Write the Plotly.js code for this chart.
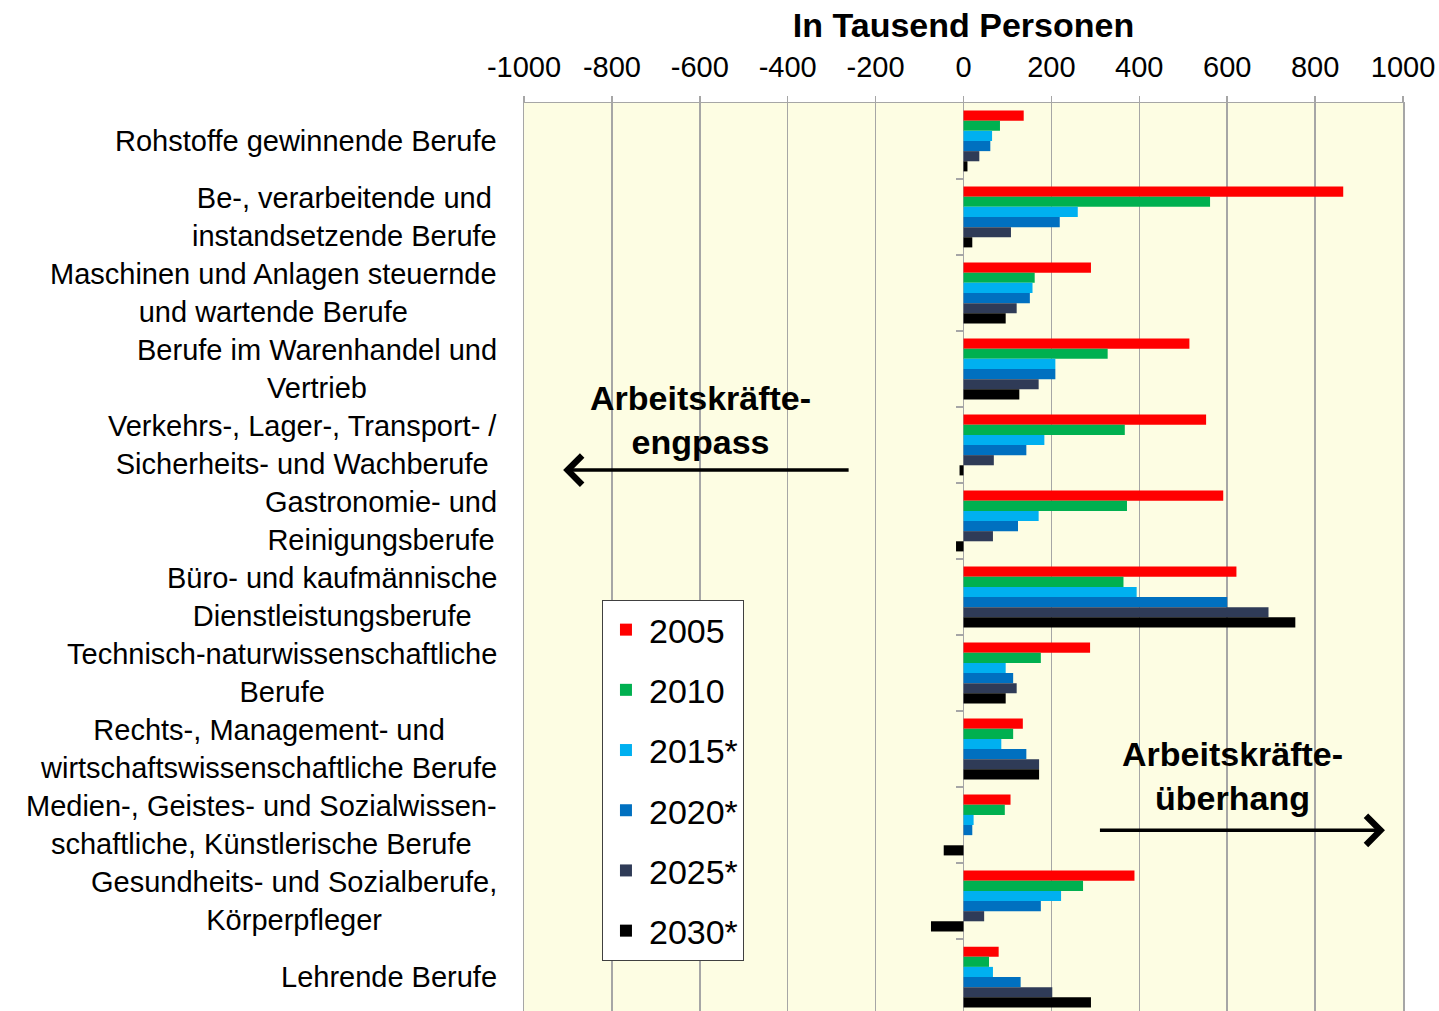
<!DOCTYPE html>
<html>
<head>
<meta charset="utf-8">
<script src="https://cdn.plot.ly/plotly-3.0.1.min.js"></script>
<style>html,body{margin:0;padding:0;background:#fff;}#chart{width:1439px;height:1011px;}</style>
</head>
<body>
<div id="chart"></div>
<script>
const categories = [
  "Rohstoffe gewinnende Berufe",
  "Be-, verarbeitende und<br>instandsetzende Berufe",
  "Maschinen und Anlagen steuernde<br>und wartende Berufe",
  "Berufe im Warenhandel und<br>Vertrieb",
  "Verkehrs-, Lager-, Transport- /<br>Sicherheits- und Wachberufe",
  "Gastronomie- und<br>Reinigungsberufe",
  "Büro- und kaufmännische<br>Dienstleistungsberufe",
  "Technisch-naturwissenschaftliche<br>Berufe",
  "Rechts-, Management- und<br>wirtschaftswissenschaftliche Berufe",
  "Medien-, Geistes- und Sozialwissen-<br>schaftliche, Künstlerische Berufe",
  "Gesundheits- und Sozialberufe,<br>Körperpfleger",
  "Lehrende Berufe"
];
const seriesNames = ["2005", "2010", "2015*", "2020*", "2025*", "2030*"];
const values2005 = [137, 864, 290, 514, 552, 591, 621, 288, 135, 107, 389, 80];
const values2010 = [83, 561, 162, 328, 367, 372, 364, 176, 113, 94, 272, 58];
const values2015 = [65, 260, 157, 209, 184, 171, 394, 96, 86, 23, 222, 67];
const values2020 = [61, 219, 151, 209, 143, 124, 600, 113, 143, 20, 176, 130];
const values2025 = [36, 108, 121, 171, 69, 67, 694, 121, 172, 0, 47, 202];
const values2030 = [9, 20, 96, 127, -9, -17, 755, 96, 172, -45, -74, 290];
const tickValues = [-1000, -800, -600, -400, -200, 0, 200, 400, 600, 800, 1000];
const tickLabels = ["-1000", "-800", "-600", "-400", "-200", "0", "200", "400", "600", "800", "1000"];
const axisTitle = "In Tausend Personen";
const leftNote = "Arbeitskräfte-<br>engpass";
const rightNote = "Arbeitskräfte-<br>überhang";

const colors = ["#FF0000", "#00B050", "#00B0F0", "#0070C0", "#2F3B57", "#000000"];
const allValues = [values2005, values2010, values2015, values2020, values2025, values2030];
const FONT = "'Liberation Sans', Arial, sans-serif";
const GRID = "#A6A6A6";

const traces = allValues.map((vals, i) => ({
  type: "bar",
  orientation: "h",
  name: seriesNames[i],
  legendgroup: "g" + i,
  x: vals,
  y: categories,
  marker: { color: colors[i], line: { width: 0 } },
  hoverinfo: "x+name"
}));
traces.push({
  type: "scatter", mode: "markers", x: [0], y: [null], yaxis: "y2",
  showlegend: false, hoverinfo: "skip"
});

const boundaryTicks = categories.slice(1).map((c, i) => i + 0.5);

const annotations = categories.map(c => ({
  xref: "paper", yref: "y", x: -0.0284, y: c,
  xanchor: "right", yanchor: "middle", align: "center",
  text: c, showarrow: false,
  font: { family: FONT, size: 29, color: "#000" }
}));
annotations.push({
  xref: "x", yref: "y", x: -599, y: 3.67, text: "<b>" + leftNote + "</b>",
  showarrow: false, xanchor: "center", yanchor: "middle", align: "center",
  font: { family: FONT, size: 34, color: "#000" }
});
annotations.push({
  xref: "x", yref: "y", x: 611, y: 8.36, text: "<b>" + rightNote + "</b>",
  showarrow: false, xanchor: "center", yanchor: "middle", align: "center",
  font: { family: FONT, size: 34, color: "#000" }
});
annotations.push({
  xref: "x", yref: "y", x: -911, y: 4.33, axref: "x", ayref: "y", ax: -258, ay: 4.33,
  text: "", showarrow: true, arrowhead: 4, arrowsize: 1.6, arrowwidth: 3.5, arrowcolor: "#000",
  standoff: 0, startstandoff: 0
});
annotations.push({
  xref: "x", yref: "y", x: 959, y: 9.07, axref: "x", ayref: "y", ax: 307, ay: 9.07,
  text: "", showarrow: true, arrowhead: 4, arrowsize: 1.6, arrowwidth: 3.5, arrowcolor: "#000",
  standoff: 0, startstandoff: 0
});

const layout = {
  width: 1439, height: 1011,
  margin: { l: 524, r: 36, t: 103, b: 0, pad: 0 },
  paper_bgcolor: "#FFFFFF",
  plot_bgcolor: "#FDFDE3",
  font: { family: FONT, color: "#000" },
  barmode: "group",
  bargap: 0.2,
  bargroupgap: 0,
  showlegend: true,
  title: {
    text: "<b>" + axisTitle + "</b>",
    font: { family: FONT, size: 34, color: "#000" },
    xref: "paper", x: 0.5, xanchor: "center",
    yref: "container", y: 0.975, yanchor: "middle"
  },
  xaxis: {
    side: "top",
    range: [-1000, 1000],
    tickmode: "array",
    tickvals: tickValues,
    ticktext: tickLabels,
    tickfont: { family: FONT, size: 29, color: "#000" },
    ticks: "outside", ticklen: 6, tickwidth: 1.5, tickcolor: GRID,
    ticklabelstandoff: 7,
    showgrid: true, gridcolor: GRID, gridwidth: 1.5,
    zeroline: true, zerolinecolor: GRID, zerolinewidth: 1.5,
    showline: true, linecolor: GRID, linewidth: 1.5,
    fixedrange: true
  },
  yaxis: {
    type: "category",
    categoryorder: "array",
    categoryarray: categories,
    range: [11.447, -0.5],
    showticklabels: false,
    ticks: "",
    showgrid: false,
    zeroline: false,
    showline: true, mirror: true, linecolor: GRID, linewidth: 1.5,
    fixedrange: true
  },
  yaxis2: {
    overlaying: "y",
    anchor: "free",
    position: 0.5,
    side: "left",
    range: [11.447, -0.5],
    tickmode: "array",
    tickvals: boundaryTicks,
    ticks: "outside", ticklen: 8, tickwidth: 1.5, tickcolor: GRID,
    showticklabels: false,
    showgrid: false, zeroline: false, showline: false,
    fixedrange: true
  },
  legend: {
    x: 0.0887, y: 0.4526, xanchor: "left", yanchor: "top",
    bgcolor: "#FFFFFF", bordercolor: "#404040", borderwidth: 1,
    font: { family: FONT, size: 34, color: "#000" },
    traceorder: "grouped",
    tracegroupgap: 13,
    itemwidth: 36
  },
  annotations: annotations
};

Plotly.newPlot("chart", traces, layout, { displayModeBar: false, staticPlot: true });
</script>
</body>
</html>
